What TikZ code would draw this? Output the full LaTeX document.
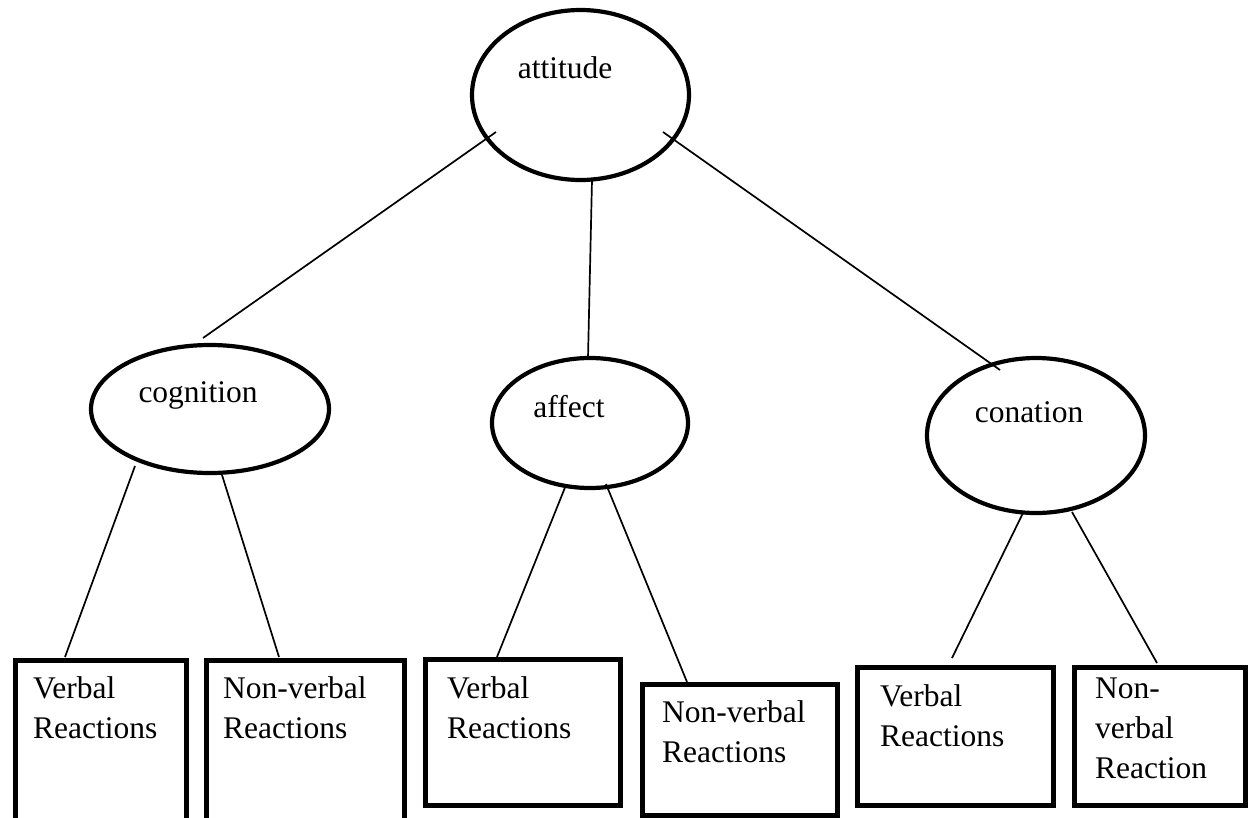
\documentclass[tikz,border=0pt]{standalone}
\usepackage{fontspec}
\setmainfont{Liberation Serif}
\usetikzlibrary{shapes.geometric}
\begin{document}
\begin{tikzpicture}[x=1pt,y=-1pt,
  oval/.style={draw, ellipse, line width=4.2pt, inner sep=0pt},
  boxframe/.style={draw, line width=4.5pt, inner sep=0pt, anchor=north west},
  link/.style={line width=1.7pt},
  lbl/.style={font=\fontsize{31.5}{40}\selectfont, inner sep=0pt, anchor=base},
  boxtxt/.style={font=\fontsize{31.5}{40}\selectfont, inner sep=0pt, anchor=base west, align=left}]
\useasboundingbox (0,0) rectangle (1248,817);
\clip (0,0) rectangle (1248,817);
\fill[white] (0,0) rectangle (1248,817);

% ellipses
\node[oval, minimum width=217pt, minimum height=170pt] (att) at (580.5,95) {};
\node[oval, minimum width=238pt, minimum height=128pt] (cog) at (210,409) {};
\node[oval, minimum width=196pt, minimum height=130pt] (aff) at (590,423) {};
\node[oval, minimum width=218pt, minimum height=155pt] (con) at (1036,435.5) {};

\node[lbl] (attT) at (565,78) {attitude};
\node[lbl] (cogT) at (198,402) {cognition};
\node[lbl] (affT) at (569,417) {affect};
\node[lbl] (conT) at (1029,422) {conation};

% boxes
\node[boxframe, minimum width=171pt, minimum height=172pt] (b1) at (13,658) {};
\node[boxframe, minimum width=198pt, minimum height=172pt] (b2) at (204,658) {};
\node[boxframe, minimum width=195pt, minimum height=146pt] (b3) at (423,657) {};
\node[boxframe, minimum width=195pt, minimum height=131pt] (b4) at (640,682) {};
\node[boxframe, minimum width=196pt, minimum height=138pt] (b5) at (855,665) {};
\node[boxframe, minimum width=171pt, minimum height=138pt] (b6) at (1072,665) {};

\node[boxtxt] (t1) at (33,738) {Verbal\\Reactions};
\node[boxtxt] (t2) at (223,738) {Non-verbal\\Reactions};
\node[boxtxt] (t3) at (447,738) {Verbal\\Reactions};
\node[boxtxt] (t4) at (662,762) {Non-verbal\\Reactions};
\node[boxtxt] (t5) at (880,746) {Verbal\\Reactions};
\node[boxtxt] (t6) at (1095,778) {Non-\\verbal\\Reaction};

% connector end points
\coordinate (attL) at (496,132);
\coordinate (attM) at (592,180);
\coordinate (attR) at (663,132);
\coordinate (cogTop) at (203,338);
\coordinate (affTop) at (588,358);
\coordinate (conTop) at (1000,370);
\coordinate (cogL) at (135,466);
\coordinate (cogR) at (222,475);
\coordinate (affL) at (566,485);
\coordinate (affR) at (606,484);
\coordinate (conL) at (1023,513);
\coordinate (conR) at (1072,512);
\coordinate (b1top) at (65,657);
\coordinate (b2top) at (279,657);
\coordinate (b3top) at (497,657);
\coordinate (b4top) at (687,682);
\coordinate (b5top) at (952,658);
\coordinate (b6top) at (1157,663);

\draw[link] (attL) -- (cogTop);
\draw[link] (attM) -- (affTop);
\draw[link] (attR) -- (conTop);
\draw[link] (cogL) -- (b1top);
\draw[link] (cogR) -- (b2top);
\draw[link] (affL) -- (b3top);
\draw[link] (affR) -- (b4top);
\draw[link] (conL) -- (b5top);
\draw[link] (conR) -- (b6top);
\end{tikzpicture}
\end{document}
